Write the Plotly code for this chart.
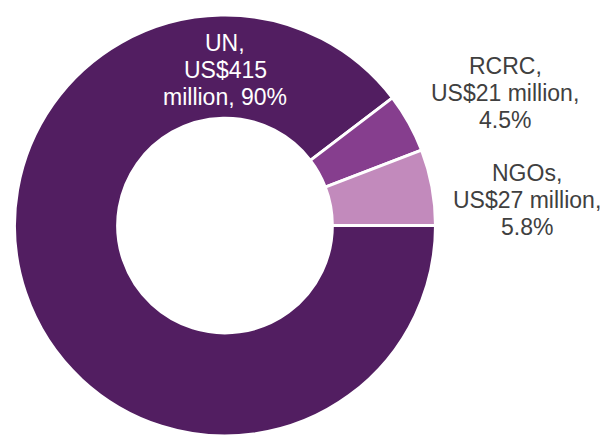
import plotly.graph_objects as go

# Data
categories = ["UN", "RCRC", "NGOs"]
values = [415, 21, 27]
amount_labels = ["US$415", "US$21 million,", "US$27 million,"]
pct_labels = ["90%", "4.5%", "5.8%"]

colors = ["#521E61", "#863E8E", "#C28ABC"]

W, H = 607, 436

fig = go.Figure(go.Pie(
    labels=categories,
    values=values,
    sort=False,
    direction="clockwise",
    rotation=90,
    hole=0.51,
    textinfo="none",
    hoverinfo="label+value+percent",
    marker=dict(colors=colors, line=dict(color="white", width=3)),
    domain=dict(x=[12 / W, 438 / W], y=[0, 1 - 15 / H]),
    showlegend=False,
))

# Label text lines (built from data)
label_lines = {
    "UN": [categories[0] + ",", amount_labels[0], "million, " + pct_labels[0]],
    "RCRC": [categories[1] + ",", amount_labels[1], pct_labels[1]],
    "NGOs": [categories[2] + ",", amount_labels[2], pct_labels[2]],
}
# Label layout (pixel anchor of first line centre, colour)
label_layout = {
    "UN": dict(x=225, y=43, color="white"),
    "RCRC": dict(x=505, y=66, color="#404040"),
    "NGOs": dict(x=527, y=173, color="#404040"),
}
LINE_SP = 27

annotations = []
for key, lines in label_lines.items():
    lay = label_layout[key]
    for i, line in enumerate(lines):
        annotations.append(dict(
            x=lay["x"] / W, y=1 - (lay["y"] + i * LINE_SP) / H,
            xref="paper", yref="paper",
            text=line, showarrow=False,
            xanchor="center", yanchor="middle",
            font=dict(family="Liberation Sans, Arial, sans-serif", size=23, color=lay["color"]),
        ))

fig.update_layout(
    width=W, height=H,
    margin=dict(l=0, r=0, t=0, b=0),
    paper_bgcolor="white",
    plot_bgcolor="white",
    annotations=annotations,
)

fig.write_html("out.html")
